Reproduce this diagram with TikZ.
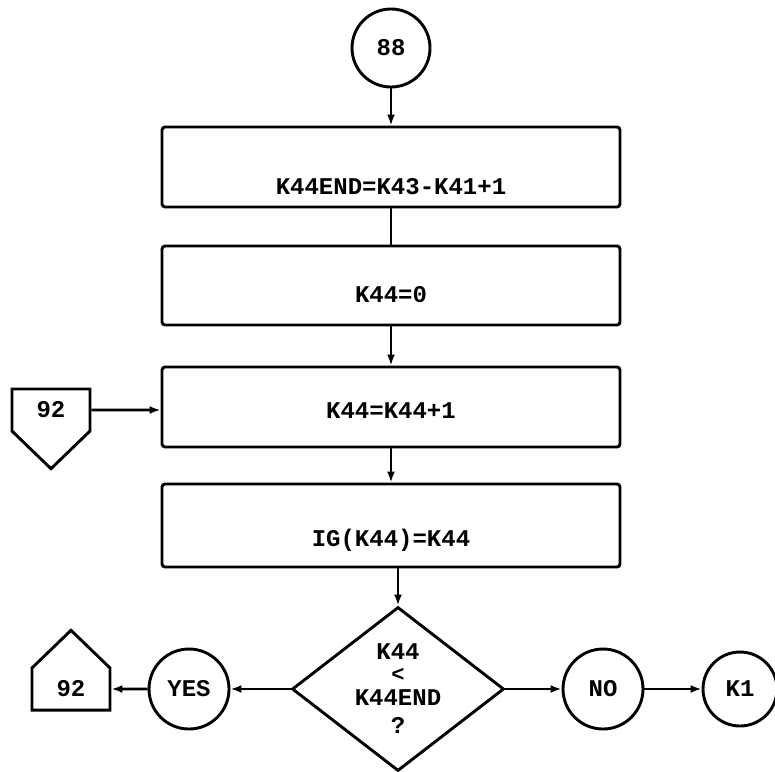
\documentclass[tikz,border=0pt]{standalone}
\usepackage{fontspec}
\setmonofont{Liberation Mono}
\usetikzlibrary{arrows.meta,shapes.geometric,shapes.symbols}

\begin{document}
\begin{tikzpicture}[x=1pt,y=-1pt,>={Latex[length=11pt,width=8pt]},line width=2.9pt,
  every node/.style={font=\ttfamily\bfseries\fontsize{24}{28}\selectfont},
  procbox/.style={draw,rounded corners=3pt,minimum width=458pt,inner sep=0pt},
  conn/.style={draw,circle,minimum size=#1,inner sep=0pt},
  decision/.style={draw,diamond,minimum width=212pt,minimum height=164pt,
    inner sep=-25pt,align=center,font=\ttfamily\bfseries\fontsize{24}{21}\selectfont},
  offpage/.style={draw,signal,signal to=#1,signal from=nowhere,signal pointer angle=92,
    minimum width=78pt,minimum height=56pt,inner sep=0pt}]
  \useasboundingbox (0,0) rectangle (775,771);
  % main column
  \node[conn=78pt] (c88) at (391,48) {88};
  \node[procbox,text height=67pt,text depth=13pt] (b1) at (391,167) {K44END=K43-K41+1};
  \node[procbox,text height=56pt,text depth=23pt] (b2) at (391,285.5) {K44=0};
  \node[procbox,text height=51pt,text depth=29pt] (b3) at (391,407) {K44=K44+1};
  \node[procbox,text height=62pt,text depth=21pt] (b4) at (391,525.5) {IG(K44)=K44};
  \node[decision] (dia) at (398,689)
    {K44\\[1pt]{\fontsize{22}{18}\selectfont <}\\[3pt]K44END\\[7pt]?};
  % branches
  \node[conn=80pt] (yes) at (189,689) {YES};
  \node[conn=80pt] (no) at (603,689) {NO};
  \node[conn=74pt] (k1) at (740,689) {K1};
  \node[offpage=south] (p1) at (51,410) {92};
  \node[offpage=north] (p2) at (71,689) {92};
  % flow lines
  \draw[->] (c88) -- (b1);
  \draw (b1) -- (b2);
  \draw[->] (b2) -- (b3);
  \draw[->] (b3) -- (b4);
  \draw[->] (b4.south -| dia) -- (dia.north);
  \draw[->] (p1) -- (p1 -| b3.west);
  \draw[->] (dia) -- (yes);
  \draw[->] (yes) -- (p2);
  \draw[->] (dia) -- (no);
  \draw[->] (no) -- (k1);
\end{tikzpicture}
\end{document}
